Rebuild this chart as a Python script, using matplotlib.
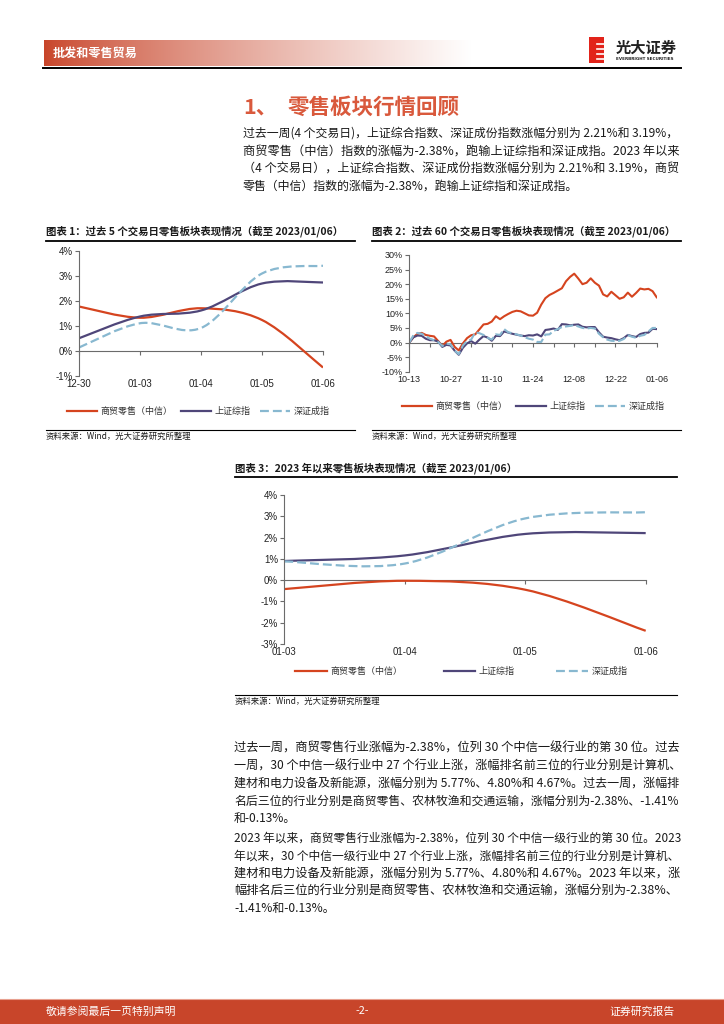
import numpy as np
import matplotlib
matplotlib.use('Agg')
import matplotlib.pyplot as plt
from matplotlib.path import Path
from matplotlib.patches import PathPatch, Rectangle
from matplotlib.lines import Line2D

plt.rcParams['font.family'] = ['Noto Sans CJK SC', 'DejaVu Sans']

W, H = 724, 1024

# ---- data (cumulative change, %) ----
series_names = ['商贸零售（中信）', '上证综指', '深证成指']

# chart 1: last 5 trading days
dates_5d = ['12-30', '01-03', '01-04', '01-05', '01-06']
retail_5d = [1.78, 1.33, 1.71, 1.24, -0.66]
sh_5d = [0.51, 1.38, 1.62, 2.70, 2.74]
sz_5d = [0.14, 1.11, 0.92, 3.10, 3.41]

# chart 2: last 60 trading days (61 closes, 10-13 .. 01-06)
labels_60d = ['10-13', '10-27', '11-10', '11-24', '12-08', '12-22', '01-06']
retail_60d = [0.0, 1.8, 3.0, 3.3, 2.6, 2.3, 2.1, 0.5, -1.2, 0.3, 0.9,
              -1.5, -2.7, -0.3, 1.5, 2.5, 2.8, 4.5, 6.2, 6.4, 7.2,
              9.0, 8.0, 9.0, 9.8, 10.5, 10.9, 10.7, 10.0, 9.3, 9.2,
              10.2, 13.0, 15.2, 16.3, 17.0, 17.8, 18.6, 21.0, 22.5, 23.6,
              21.9, 20.0, 20.5, 22.0, 20.5, 19.5, 16.5, 15.8, 17.4, 16.2,
              15.0, 15.5, 17.1, 15.7, 17.0, 18.5, 18.2, 18.4, 17.6, 15.5]
sh_60d = [0.0, 1.8, 2.4, 2.3, 1.3, 0.8, 0.8, 0.3, -1.5, -0.8, -1.0,
          -2.8, -4.2, -1.8, -0.3, 0.5, -0.4, 1.0, 2.2, 1.7, 0.6,
          2.3, 2.2, 3.8, 3.4, 3.0, 2.7, 2.4, 2.2, 2.5, 2.4,
          2.8, 2.1, 4.3, 4.5, 4.8, 4.3, 6.3, 6.2, 5.9, 6.1,
          6.2, 5.4, 5.2, 5.3, 5.3, 3.5, 2.0, 1.7, 1.5, 1.1,
          0.8, 1.5, 2.6, 2.2, 1.9, 2.9, 3.3, 3.4, 4.7, 4.6]
sz_60d = [0.0, 2.5, 3.3, 3.0, 2.2, 1.3, 0.8, 0.2, -1.2, -0.4, -0.6,
          -2.8, -4.0, -1.0, 0.5, 1.0, 3.5, 3.2, 2.6, 1.6, 1.0,
          2.8, 2.6, 4.6, 3.5, 3.2, 2.8, 2.4, 1.8, 1.3, 1.0,
          0.2, 0.2, 2.7, 2.8, 4.0, 4.6, 5.3, 5.5, 5.7, 6.0,
          5.5, 5.0, 4.8, 5.0, 4.8, 3.0, 1.8, 1.0, 0.6, 0.5,
          0.6, 1.2, 2.5, 2.0, 1.6, 2.3, 2.6, 3.8, 5.0, 5.0]

# chart 3: since start of 2023
dates_ytd = ['01-03', '01-04', '01-05', '01-06']
retail_ytd = [-0.42, -0.03, -0.45, -2.38]
sh_ytd = [0.90, 1.16, 2.17, 2.21]
sz_ytd = [0.88, 0.78, 2.90, 3.19]

para1 = ['过去一周(4 个交易日)，上证综合指数、深证成份指数涨幅分别为 2.21%和 3.19%，',
         '商贸零售（中信）指数的涨幅为-2.38%，跑输上证综指和深证成指。2023 年以来',
         '（4 个交易日），上证综合指数、深证成份指数涨幅分别为 2.21%和 3.19%，商贸',
         '零售（中信）指数的涨幅为-2.38%，跑输上证综指和深证成指。']
para2 = ['过去一周，商贸零售行业涨幅为-2.38%，位列 30 个中信一级行业的第 30 位。过去',
         '一周，30 个中信一级行业中 27 个行业上涨，涨幅排名前三位的行业分别是计算机、',
         '建材和电力设备及新能源，涨幅分别为 5.77%、4.80%和 4.67%。过去一周，涨幅排',
         '名后三位的行业分别是商贸零售、农林牧渔和交通运输，涨幅分别为-2.38%、-1.41%',
         '和-0.13%。']
para3 = ['2023 年以来，商贸零售行业涨幅为-2.38%，位列 30 个中信一级行业的第 30 位。2023',
         '年以来，30 个中信一级行业中 27 个行业上涨，涨幅排名前三位的行业分别是计算机、',
         '建材和电力设备及新能源，涨幅分别为 5.77%、4.80%和 4.67%。2023 年以来，涨',
         '幅排名后三位的行业分别是商贸零售、农林牧渔和交通运输，涨幅分别为-2.38%、',
         '-1.41%和-0.13%。']

colors = ['#D5441F', '#4F4679', '#88B8D0']
axis_color = '#6b6b6b'
brand_red = '#C8452A'

fig = plt.figure(figsize=(W / 100, H / 100), dpi=100)
renderer = fig.canvas.get_renderer()


def fx(x):
    return x / W


def fy(y):
    return 1 - y / H


def axes_px(left, top, right, bottom):
    return fig.add_axes([fx(left), fy(bottom), (right - left) / W, (bottom - top) / H])


def hline(x0, x1, y, lw=1.0, color='black'):
    fig.add_artist(Line2D([fx(x0), fx(x1)], [fy(y), fy(y)], transform=fig.transFigure,
                          color=color, lw=lw))


def text(x, y, s, size, **kw):
    kw.setdefault('va', 'center')
    kw.setdefault('color', '#1a1a1a')
    return fig.text(fx(x), fy(y), s, fontsize=size, **kw)


def paragraph(x0, x1, y0, lines, fs, step):
    # stretch/shrink every line but the last so it fills the text column
    for i, line in enumerate(lines):
        t = text(x0, y0 + step * i, line, fs)
        if i < len(lines) - 1:
            w = t.get_window_extent(renderer).width
            t.set_fontsize(fs * np.clip((x1 - x0) / w, 0.93, 1.07))


def smooth_path(xs, ys):
    # Excel-style smoothed line: cubic Bezier through every data point
    pts = np.column_stack([xs, ys]).astype(float)
    n = len(pts)
    verts, codes = [pts[0]], [Path.MOVETO]
    for i in range(n - 1):
        p0, p1 = pts[max(i - 1, 0)], pts[i]
        p2, p3 = pts[i + 1], pts[min(i + 2, n - 1)]
        verts += [p1 + (p2 - p0) / 6, p2 - (p3 - p1) / 6, p2]
        codes += [Path.CURVE4] * 3
    return Path(verts, codes)


def style_chart(ax, ymin, ymax, ystep, npts, label_pos, labels, tick_pos, fs):
    ax.set_xlim(0, npts - 1)
    ax.set_ylim(ymin, ymax)
    ax.set_yticks(np.arange(ymin, ymax + 0.001, ystep))
    ax.yaxis.set_major_formatter(lambda v, p: f'{v:.0f}%')
    for s in ['top', 'right', 'bottom']:
        ax.spines[s].set_visible(False)
    ax.spines['left'].set_color(axis_color)
    ax.spines['left'].set_linewidth(0.8)
    ax.tick_params(axis='y', length=3, width=0.8, color=axis_color, labelsize=fs, pad=1.5,
                   labelcolor='#222222', labelfontfamily='Liberation Sans')
    ax.set_xticks(label_pos)
    ax.set_xticklabels(labels)
    ax.tick_params(axis='x', length=0, labelsize=fs, pad=2.5,
                   labelcolor='#222222', labelfontfamily='Liberation Sans')
    ax.patch.set_alpha(0)
    zero = ax.secondary_xaxis((0 - ymin) / (ymax - ymin))
    zero.set_xticks(tick_pos)
    zero.tick_params(length=3, width=0.8, color=axis_color, labelbottom=False, labeltop=False)
    for sp in zero.spines.values():
        sp.set_color(axis_color)
        sp.set_linewidth(0.8)


def legend(x0, y0, lw, hl, spacing, dash):
    handles = [Line2D([], [], color=colors[0], lw=lw),
               Line2D([], [], color=colors[1], lw=lw),
               Line2D([], [], color=colors[2], lw=lw, ls=(0, dash))]
    fig.legend(handles, series_names, loc='center left', bbox_to_anchor=(fx(x0), fy(y0)),
               ncol=3, frameon=False, fontsize=6.5, handlelength=hl, handletextpad=0.4,
               columnspacing=spacing, borderpad=0, borderaxespad=0, labelcolor='#333333')


# ---- page header ----
hdr = axes_px(44, 40, 472, 66)
grad = np.linspace(0, 1, 256) ** 0.8
c0 = np.array(matplotlib.colors.to_rgb(brand_red))
img = c0[None, :] * (1 - grad[:, None]) + grad[:, None]
hdr.imshow(img[None, :, :], aspect='auto', extent=(0, 1, 0, 1))
hdr.axis('off')
text(53, 53, '批发和零售贸易', 8.7, color='white', fontweight='bold')
hline(43, 681, 68.3, lw=1.4)

# logo
fig.add_artist(Rectangle((fx(589), fy(63)), 15 / W, 26 / H, transform=fig.transFigure,
                         color='#E2231A', lw=0))
for yy in [44, 49, 54, 59]:
    hline(597, 604.5, yy, lw=1.2, color='white')
text(616, 48, '光大证券', 11, fontweight='bold', color='#222222')
text(616, 59.5, 'EVERBRIGHT SECURITIES', 3.0, fontweight='bold', color='#222222',
     family=['DejaVu Sans'])

# ---- section title and first paragraph ----
text(243, 107, '1、', 15.5, fontweight='bold', color='#D9593C')
text(288, 107, '零售板块行情回顾', 15.5, fontweight='bold', color='#D9593C')
paragraph(243, 677, 133.5, para1, 8.6, 17.7)

# ---- chart 1 ----
text(46, 231.7, '图表 1：过去 5 个交易日零售板块表现情况（截至 2023/01/06）', 7.5, fontweight='bold')
hline(46, 355, 241, lw=1.3)
ax1 = axes_px(79, 251, 323, 376)
x5 = np.arange(len(dates_5d))
for vals, c, dash in [(retail_5d, colors[0], None), (sh_5d, colors[1], None), (sz_5d, colors[2], (4, 1.8))]:
    ax1.add_patch(PathPatch(smooth_path(x5, vals), fill=False, edgecolor=c, lw=1.6,
                            ls=(0, dash) if dash else '-', capstyle='butt'))
style_chart(ax1, -1, 4, 1, len(dates_5d), x5, dates_5d, x5, 7)
legend(67, 411.7, 1.6, 3.3, 1.0, (4, 1.8))
hline(46, 355, 430, lw=0.8)
text(46, 436, '资料来源：Wind，光大证券研究所整理', 6.0)

# ---- chart 2 ----
text(372, 231.7, '图表 2：过去 60 个交易日零售板块表现情况（截至 2023/01/06）', 7.5, fontweight='bold')
hline(372, 681, 241, lw=1.3)
ax2 = axes_px(409.3, 255, 656.7, 371.7)
x60 = np.arange(len(retail_60d))
ax2.plot(x60, retail_60d, color=colors[0], lw=1.5)
ax2.plot(x60, sh_60d, color=colors[1], lw=1.5)
ax2.plot(x60, sz_60d, color=colors[2], lw=1.5, ls=(0, (4, 1.6)))
style_chart(ax2, -10, 30, 5, len(retail_60d), x60[::10], labels_60d, x60[::5], 6.5)
legend(402, 406.7, 1.6, 3.3, 1.0, (4, 1.8))
hline(372, 681, 430, lw=0.8)
text(372, 436, '资料来源：Wind，光大证券研究所整理', 6.0)

# ---- chart 3 ----
text(235, 468.3, '图表 3：2023 年以来零售板块表现情况（截至 2023/01/06）', 7.5, fontweight='bold')
hline(235, 677, 476.7, lw=1.3)
ax3 = axes_px(284.3, 495, 645.7, 644)
x4 = np.arange(len(dates_ytd))
for vals, c, dash in [(retail_ytd, colors[0], None), (sh_ytd, colors[1], None), (sz_ytd, colors[2], (4, 1.8))]:
    ax3.add_patch(PathPatch(smooth_path(x4, vals), fill=False, edgecolor=c, lw=1.6,
                            ls=(0, dash) if dash else '-', capstyle='butt'))
style_chart(ax3, -3, 4, 1, len(dates_ytd), x4, dates_ytd, x4, 7)
legend(295, 671.7, 1.6, 3.5, 4.6, (4, 1.8))
hline(235, 677, 695, lw=0.8)
text(235, 701.7, '资料来源：Wind，光大证券研究所整理', 6.0)

# ---- lower paragraphs ----
paragraph(234, 678, 748.3, para2, 8.6, 17.6)
paragraph(234, 678, 838.3, para3, 8.6, 17.6)

# ---- footer ----
fig.add_artist(Rectangle((0, 0), 1, 25 / H, transform=fig.transFigure, color=brand_red, lw=0))
hline(0, W, 998.5, lw=0.8, color='#E8A08F')
text(46, 1011.5, '敬请参阅最后一页特别声明', 7.8, color='white')
text(362, 1011.5, '-2-', 7.8, color='white', ha='center')
text(675, 1011.5, '证券研究报告', 7.8, color='white', ha='right')

fig.savefig('out.png', dpi=100)
